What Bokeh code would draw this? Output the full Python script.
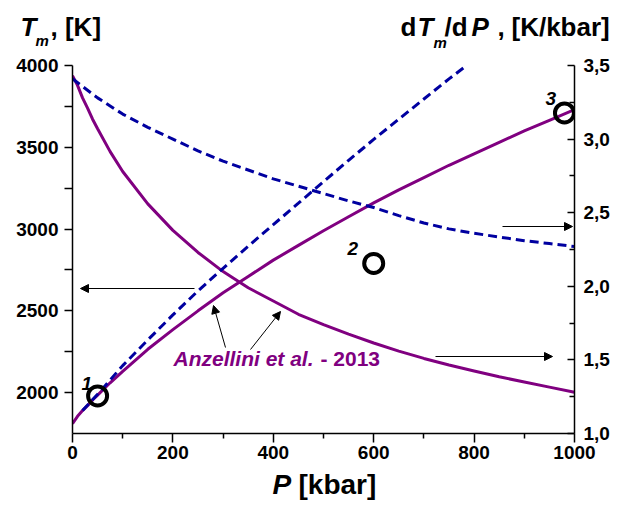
from bokeh.plotting import figure
from bokeh.layouts import column
from bokeh.models import Range1d, LinearAxis, FixedTicker, Label, Arrow, NormalHead, CustomJSTickFormatter
from bokeh.embed import file_html
from bokeh.resources import INLINE

# ---------------- data ----------------
# Anzellini et al. 2013 melting curve T_m(P), left axis [K]
p_melt = [0, 10, 20, 30, 40, 50, 75, 100, 150, 200, 250, 300, 350, 400, 450,
          500, 550, 600, 650, 700, 750, 800, 850, 900, 950, 1000]
tm_melt = [1810, 1855, 1890, 1920, 1955, 1985, 2060, 2130, 2265, 2385, 2500,
           2610, 2710, 2810, 2900, 2990, 3075, 3160, 3240, 3315, 3390, 3460,
           3530, 3600, 3665, 3730]
# its slope dT_m/dP, right axis [K/kbar]
dtdp_melt = [3.43, 3.365, 3.28, 3.21, 3.135, 3.07, 2.915, 2.78, 2.56, 2.38,
             2.23, 2.10, 1.99, 1.90, 1.81, 1.74, 1.675, 1.615, 1.56, 1.51,
             1.465, 1.425, 1.385, 1.35, 1.315, 1.28]

# dashed curve, left axis [K]
p_dash_t = [20, 50, 100, 150, 200, 250, 300, 350, 400, 450, 500, 550, 600,
            650, 700, 750, 785]
t_dash = [1890, 1990, 2165, 2322, 2475, 2622, 2760, 2895, 3027, 3158, 3290,
          3420, 3548, 3672, 3795, 3918, 4000]

# dashed curve, right axis [K/kbar]
p_dash_r = [0, 50, 100, 150, 200, 250, 300, 350, 400, 450, 500, 550, 600,
            650, 700, 750, 800, 850, 900, 950, 1000]
r_dash = [3.41, 3.28, 3.17, 3.08, 3.00, 2.92, 2.85, 2.79, 2.73, 2.68, 2.63,
          2.58, 2.535, 2.48, 2.43, 2.39, 2.36, 2.335, 2.31, 2.29, 2.27]

# experimental points
p_points = [50, 600, 980]
t_points = [1980, 2790, 3710]
point_labels = ["1", "2", "3"]

# ticks
x_ticks = [0, 200, 400, 600, 800, 1000]
x_minor = [100, 300, 500, 700, 900]
yl_ticks = [2000, 2500, 3000, 3500, 4000]
yl_minor = [2250, 2750, 3250, 3750]
yr_ticks = [1.0, 1.5, 2.0, 2.5, 3.0, 3.5]
yr_minor = [1.25, 1.75, 2.25, 2.75, 3.25]

PURPLE = "#800080"
BLUE = "#0000A0"
FONT = "Liberation Sans"

X0, X1 = 0, 1000
YL0, YL1 = 1750, 4000
YR0, YR1 = 1.0, 3.5

W = 620
TOP_H = 52          # strip holding the two axis titles
MAIN_H = 418        # main plot (frame: page y 65..433)
BOT_H = 35          # strip holding the x-axis title
BASE_SHIFT = 0.4    # em: lift of the text so its baseline sits on the wanted pixel row

# page-pixel helpers for annotation placement inside the frame (x 72..574, y 65..433)
def px2x(px):
    return X0 + (px - 72) * (X1 - X0) / 502.0

def py2y(py):
    return YL0 + (433 - py) * (YL1 - YL0) / 368.0

def py2r(py):
    return YR0 + (433 - py) * (YR1 - YR0) / 368.0

def make_label(x, y, text, size, style="bold", color="black"):
    return Label(x=x, y=y, text=text, text_font=FONT, text_font_style=style,
                 text_font_size=f"{size}px", text_color=color,
                 text_baseline="alphabetic", text_align="left")

def strip(h):
    s = figure(width=W, height=h, x_range=Range1d(0, W), y_range=Range1d(0, h),
               output_backend="svg", toolbar_location=None,
               x_axis_location=None, y_axis_location=None,
               min_border=0, min_border_left=0, min_border_right=0,
               min_border_top=0, min_border_bottom=0, frame_align=False)
    s.outline_line_color = None
    s.xgrid.visible = False
    s.ygrid.visible = False
    return s

# ---------------- top strip: axis titles ----------------
top = strip(TOP_H)

def tlab(px, py, text, size, style="bold"):
    top.add_layout(make_label(px, TOP_H - (py - BASE_SHIFT * size), text, size, style))

tlab(20, 37, "T", 26, "bold italic")
tlab(35, 46, "m", 15, "bold italic")
tlab(50, 37, ", [K]", 26, "bold")

tlab(400, 37, "d", 26, "bold")
tlab(417, 37, "T", 26, "bold italic")
tlab(433, 48, "m", 15, "bold italic")
tlab(444, 37, "/d", 26, "bold")
tlab(471, 37, "P", 26, "bold italic")
tlab(497, 37, ",", 26, "bold")
tlab(511, 37, "[K/kbar]", 26, "bold")

# ---------------- main plot ----------------
p = figure(width=W, height=MAIN_H, x_range=Range1d(X0, X1), y_range=Range1d(YL0, YL1),
           output_backend="svg", toolbar_location=None, frame_align=False,
           min_border_left=72, min_border_right=46, min_border_top=13, min_border_bottom=37)
p.outline_line_color = None
p.xgrid.visible = False
p.ygrid.visible = False
p.extra_y_ranges = {"r": Range1d(YR0, YR1)}

def style_axis(ax):
    ax.axis_line_color = "black"
    ax.axis_line_width = 1.5
    ax.major_tick_line_color = "black"
    ax.major_tick_line_width = 1.5
    ax.minor_tick_line_color = "black"
    ax.minor_tick_line_width = 1.5
    ax.major_label_text_font = FONT
    ax.major_label_text_font_style = "bold"
    ax.major_label_text_font_size = "19px"
    ax.major_label_text_color = "black"

xa = p.xaxis[0]
style_axis(xa)
xa.ticker = FixedTicker(ticks=x_ticks, minor_ticks=x_minor)
xa.major_tick_out = 9
xa.major_tick_in = 0
xa.minor_tick_out = 5
xa.minor_tick_in = 0
xa.major_label_standoff = 3

ya = p.yaxis[0]
style_axis(ya)
ya.ticker = FixedTicker(ticks=yl_ticks, minor_ticks=yl_minor)
ya.major_tick_out = 8
ya.major_tick_in = 0
ya.minor_tick_out = 8
ya.minor_tick_in = 0
ya.major_label_standoff = 6

ra = LinearAxis(y_range_name="r")
style_axis(ra)
ra.ticker = FixedTicker(ticks=yr_ticks, minor_ticks=yr_minor)
ra.formatter = CustomJSTickFormatter(code="return tick.toFixed(1).replace('.', ',');")
ra.major_tick_out = 0
ra.major_tick_in = 7
ra.minor_tick_out = 0
ra.minor_tick_in = 5
ra.major_label_standoff = 9
p.add_layout(ra, "right")

# curves
p.line(p_melt, tm_melt, line_color=PURPLE, line_width=3)
p.line(p_melt, dtdp_melt, line_color=PURPLE, line_width=3, y_range_name="r")
p.line(p_dash_t, t_dash, line_color=BLUE, line_width=3, line_dash="9 5")
p.line(p_dash_r, r_dash, line_color=BLUE, line_width=3, line_dash="9 5", y_range_name="r")

# points
p.scatter(p_points, t_points, marker="circle", size=19, fill_color=None,
          line_color="black", line_width=4)

def mlab(px, py, text, size, style="bold", color="black"):
    p.add_layout(make_label(px2x(px), py2y(py - BASE_SHIFT * size), text, size, style, color))

# point numbers
for (px_, py_), t in zip([(81, 391), (347, 256), (545, 106)], point_labels):
    mlab(px_, py_, t, 19, "bold italic")

# arrows
def arrow(x0, y0, x1, y1, rng=None):
    a = Arrow(x_start=x0, y_start=y0, x_end=x1, y_end=y1, line_color="black", line_width=1,
              end=NormalHead(size=8, fill_color="black", line_color="black", line_width=1))
    if rng is not None:
        a.y_range_name = rng
    p.add_layout(a)

arrow(px2x(194), py2y(288), px2x(80), py2y(288))
arrow(px2x(502), py2r(226), px2x(572), py2r(226), "r")
arrow(px2x(435), py2r(356), px2x(552), py2r(356), "r")
arrow(px2x(225), py2y(347), px2x(213), py2y(305))
arrow(px2x(250), py2y(349), px2x(280), py2y(311))

# source label
mlab(173, 366, "Anzellini et al.", 21, "bold italic", PURPLE)
mlab(320, 366, "- 2013", 21, "bold", PURPLE)

# ---------------- bottom strip: x-axis title ----------------
bot = strip(BOT_H)
y_off = TOP_H + MAIN_H
for px_, t, st in [(272, "P", "bold italic"), (298, "[kbar]", "bold")]:
    bot.add_layout(make_label(px_, BOT_H - (495 - BASE_SHIFT * 28 - y_off), t, 28, st))

layout = column(top, p, bot, spacing=0)
open("out.html", "w").write(file_html(layout, INLINE))
